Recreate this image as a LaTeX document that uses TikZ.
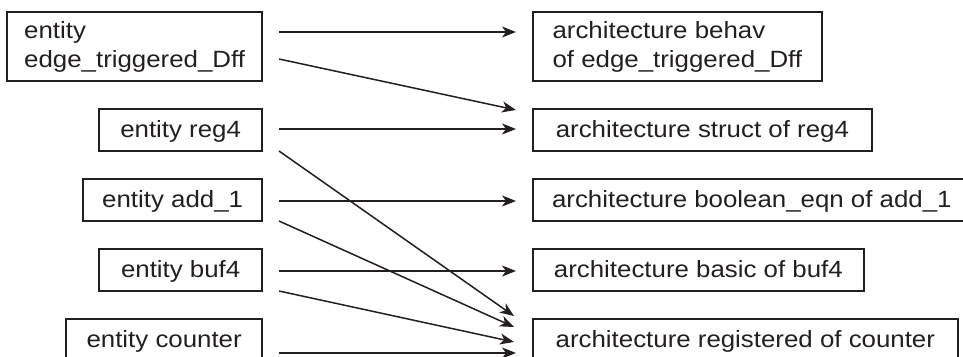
\documentclass[tikz,border=0pt]{standalone}
\usepackage{fontspec}
\setmainfont{Liberation Sans}[FakeStretch=1.1]
\usetikzlibrary{arrows.meta}
\definecolor{ink}{RGB}{35,31,32}
\begin{document}
\begin{tikzpicture}[x=1pt,y=-1pt,
  box/.style={draw=ink, text=ink, line width=1.7pt, inner sep=0pt,
    font=\fontsize{23.5}{29}\selectfont, minimum height=42pt},
  lbox/.style={box, anchor=east, align=center},
  rbox/.style={box, anchor=west, align=left},
  one/.style={text height=16pt, text depth=1pt},
  link/.style={draw=ink, line width=1.5pt,
    -{Stealth[length=14pt,width=11pt,inset=4pt]}}]
\useasboundingbox (0,0) rectangle (963,356);
\clip (0,0) rectangle (963,356);

% entities (left column)
\node[lbox, align=left, minimum width=255pt, minimum height=69pt] (L1) at (263,46.5) {entity\\edge\_triggered\_Dff};
\node[lbox, one, minimum width=163pt] (L2) at (263,130) {entity reg4};
\node[lbox, one, minimum width=179pt] (L3) at (263,200) {entity add\_1};
\node[lbox, one, minimum width=163pt] (L4) at (263,270) {entity buf4};
\node[lbox, one, minimum width=196pt] (L5) at (263,340) {entity counter};

% architectures (right column)
\node[rbox, minimum width=289pt, minimum height=69pt] (R1) at (532,46.5) {architecture behav\\of edge\_triggered\_Dff};
\node[rbox, one, minimum width=339pt] (R2) at (532,130) {architecture struct of reg4};
\node[rbox, one, minimum width=438pt] (R3) at (532,200) {architecture boolean\_eqn of add\_1};
\node[rbox, one, minimum width=331pt] (R4) at (532,270) {architecture basic of buf4};
\node[rbox, one, minimum width=425pt] (R5) at (532,340) {architecture registered of counter};

% bindings
\draw[link] ([xshift=16pt,yshift=14.5pt]L1.east) -- ([xshift=-16pt,yshift=14.5pt]R1.west);
\draw[link] ([xshift=16pt,yshift=-12.5pt]L1.east) -- ([xshift=-16pt,yshift=20pt]R2.west);
\draw[link] ([xshift=16pt,yshift=1pt]L2.east) -- ([xshift=-16pt,yshift=1pt]R2.west);
\draw[link] ([xshift=16pt,yshift=-21pt]L2.east) -- ([xshift=-18pt,yshift=24pt]R5.west);
\draw[link] ([xshift=16pt,yshift=-1pt]L3.east) -- ([xshift=-16pt,yshift=-1pt]R3.west);
\draw[link] ([xshift=16pt,yshift=-21pt]L3.east) -- ([xshift=-18pt,yshift=13pt]R5.west);
\draw[link] ([xshift=16pt,yshift=-1pt]L4.east) -- ([xshift=-16pt,yshift=-1pt]R4.west);
\draw[link] ([xshift=16pt,yshift=-21pt]L4.east) -- ([xshift=-18pt,yshift=-2pt]R5.west);
\draw[link] ([xshift=16pt,yshift=-13pt]L5.east) -- ([xshift=-16pt,yshift=-13pt]R5.west);
\end{tikzpicture}
\end{document}
